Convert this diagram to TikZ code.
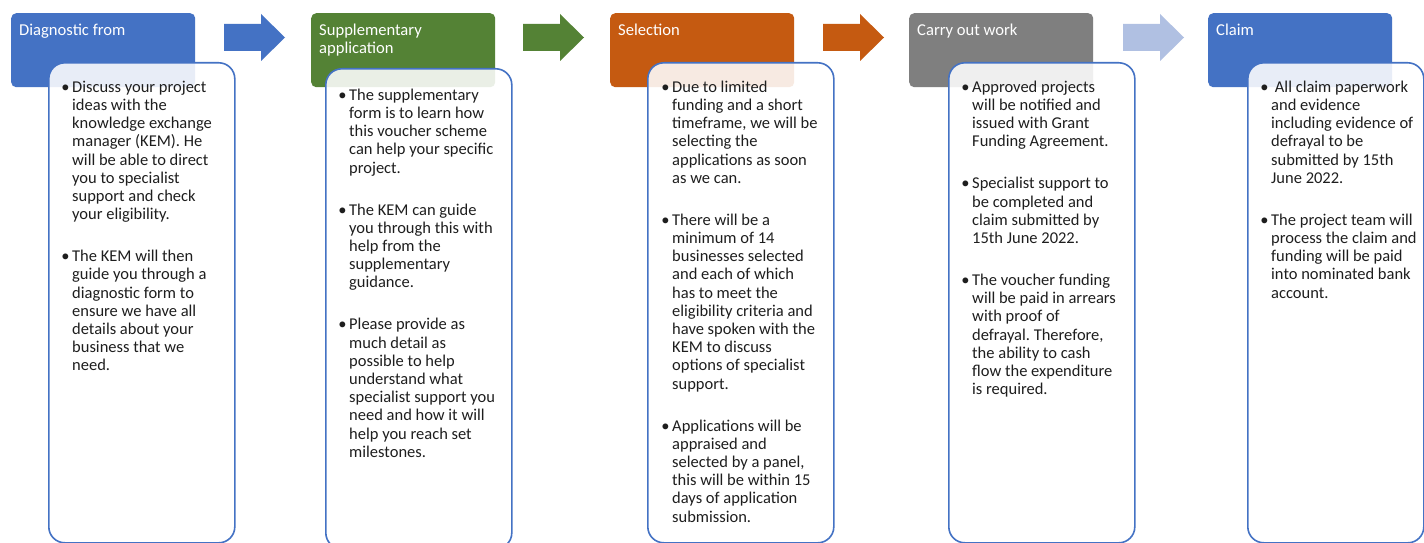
\documentclass[tikz,border=0pt]{standalone}
\usepackage{fontspec}
\setmainfont{Carlito}
\frenchspacing

\definecolor{stepblue}{HTML}{4472C4}
\definecolor{stepgreen}{HTML}{548235}
\definecolor{steporange}{HTML}{C55A11}
\definecolor{stepgray}{HTML}{7F7F7F}
\definecolor{steplight}{HTML}{B0C0E2}
\definecolor{cardline}{HTML}{4472C4}
\definecolor{cardtext}{HTML}{1E1E1E}

\newcommand{\headfont}{\fontsize{16.6}{18.2}\selectfont}
\newcommand{\cardfont}{\fontsize{16.5}{18.2}\selectfont}
% bullet hanging to the left of the first line of an item
\newcommand{\itm}{\rule{0pt}{13pt}\llap{\textbullet\hspace{2.5pt}}}

\tikzset{
  x=1pt, y=-1pt,
  headbox/.style={rounded corners=5pt, draw=none, anchor=north west,
    minimum width=184, minimum height=74, inner sep=0},
  cardbox/.style={rounded corners=16pt, draw=cardline, line width=1.6pt,
    fill=white, fill opacity=0.88, anchor=north west, inner sep=0,
    minimum width=186, minimum height=480},
  headtext/.style={anchor=north west, inner sep=0, align=left,
    text=white, font=\headfont},
  cardtext/.style={anchor=north west, inner sep=0, align=left,
    text=cardtext, font=\cardfont},
}

\begin{document}
\begin{tikzpicture}
\useasboundingbox (0,0) rectangle (1424,543);
\fill[white] (0,0) rectangle (1424,543);

% step headers
\node[headbox, fill=stepblue]   (h1) at (11,13)   {};
\node[headbox, fill=stepgreen]  (h2) at (311,13)  {};
\node[headbox, fill=steporange] (h3) at (610,13)  {};
\node[headbox, fill=stepgray]   (h4) at (909,13)  {};
\node[headbox, fill=stepblue]   (h5) at (1208,13) {};

\node[headtext] (t1) at (19,23)   {\rule{0pt}{12pt}Diagnostic from};
\node[headtext] (t2) at (319,23)  {\rule{0pt}{12pt}Supplementary\\application};
\node[headtext] (t3) at (618,23)  {\rule{0pt}{12pt}Selection};
\node[headtext] (t4) at (917,23)  {\rule{0pt}{12pt}Carry out work};
\node[headtext] (t5) at (1216,23) {\rule{0pt}{12pt}Claim};

% block arrows between the steps
\foreach \x/\c in {224/stepblue, 523/stepgreen, 823/steporange, 1123/steplight}{
  \fill[\c] (\x,24) -- ++(37,0) -- ++(0,-10) -- ++(24,23.5) -- ++(-24,23.5)
            -- ++(0,-10) -- ++(-37,0) -- cycle;
}

% detail cards
\node[cardbox] (c1) at (48,62)  {};
\node[cardbox] (c2) at (325,68) {};
\node[cardbox] (c3) at (647,62) {};
\node[cardbox] (c4) at (948,62) {};
\node[cardbox, minimum width=176] (c5) at (1247,62) {};

\node[cardtext] (d1) at (72,79) {%
\itm Discuss your project\\ideas with the\\knowledge exchange\\manager (KEM). He\\will be able to direct\\you to specialist\\support and check\\your eligibility.\\[23.8pt]
\itm The KEM will then\\guide you through a\\diagnostic form to\\ensure we have all\\details about your\\business that we\\need.};

\node[cardtext] (d2) at (349,87) {%
\itm The supplementary\\form is to learn how\\this voucher scheme\\can help your specific\\project.\\[23.8pt]
\itm The KEM can guide\\you through this with\\help from the\\supplementary\\guidance.\\[23.8pt]
\itm Please provide as\\much detail as\\possible to help\\understand what\\specialist support you\\need and how it will\\help you reach set\\milestones.};

\node[cardtext] (d3) at (672,79) {%
\itm Due to limited\\funding and a short\\timeframe, we will be\\selecting the\\applications as soon\\as we can.\\[23.8pt]
\itm There will be a\\minimum of 14\\businesses selected\\and each of which\\has to meet the\\eligibility criteria and\\have spoken with the\\KEM to discuss\\options of specialist\\support.\\[23.8pt]
\itm Applications will be\\appraised and\\selected by a panel,\\this will be within 15\\days of application\\submission.};

\node[cardtext] (d4) at (972,79) {%
\itm Approved projects\\will be notified and\\issued with Grant\\Funding Agreement.\\[23.8pt]
\itm Specialist support to\\be completed and\\claim submitted by\\15th June 2022.\\[23.8pt]
\itm The voucher funding\\will be paid in arrears\\with proof of\\defrayal. Therefore,\\the ability to cash\\flow the expenditure\\is required.};

\node[cardtext] (d5) at (1271,79) {%
\itm\ All claim paperwork\\and evidence\\including evidence of\\defrayal to be\\submitted by 15th\\June 2022.\\[23.8pt]
\itm The project team will\\process the claim and\\funding will be paid\\into nominated bank\\account.};
\end{tikzpicture}
\end{document}
